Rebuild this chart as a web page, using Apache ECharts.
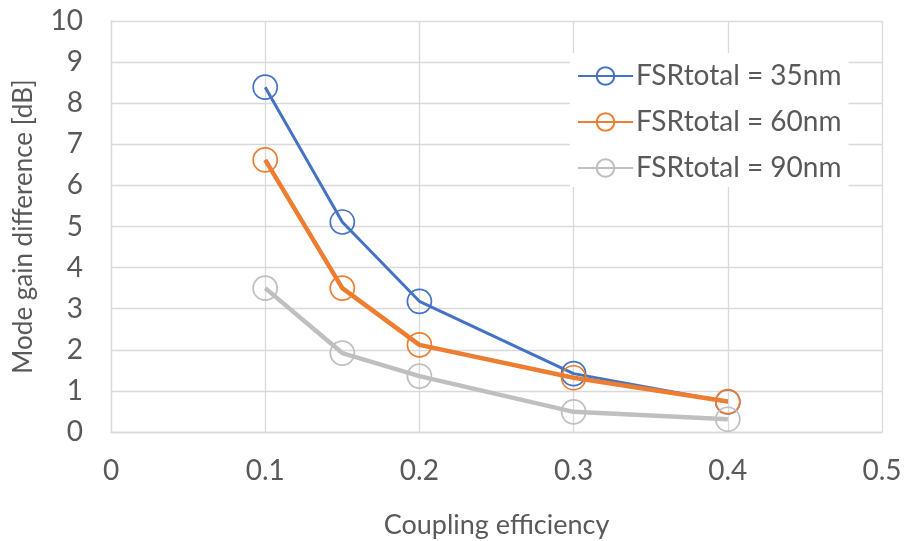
<!DOCTYPE html>
<html>
<head>
<meta charset="utf-8">
<script src="https://cdn.jsdelivr.net/npm/echarts@6/dist/echarts.min.js"></script>
<style>
  html, body { margin: 0; padding: 0; background: #fff; }
  #chart { width: 907px; height: 541px; }
</style>
</head>
<body>
<div id="chart"></div>
<script>
// Coupling efficiency (x) and mode gain difference in dB (y) for three total FSRs
const couplingEff = [0.1, 0.15, 0.2, 0.3, 0.4];
const gain35 = [8.39, 5.11, 3.18, 1.42, 0.73];
const gain60 = [6.62, 3.5, 2.12, 1.32, 0.74];
const gain90 = [3.5, 1.92, 1.36, 0.49, 0.31];
const seriesNames = ['FSRtotal = 35nm', 'FSRtotal = 60nm', 'FSRtotal = 90nm'];
const seriesColors = ['#4472C4', '#ED7D31', '#BFBFBF'];
const lineWidths = [3, 4.5, 4.5];

const font = 'Lato, "Open Sans", sans-serif';
const textColor = '#595959';
const gridColor = '#D9D9D9';

function pairs(ys) {
  return couplingEff.map((x, i) => [x, ys[i]]);
}

const seriesData = [gain35, gain60, gain90];

const chart = echarts.init(document.getElementById('chart'), null, { renderer: 'canvas' });
chart.setOption({
  animation: false,
  backgroundColor: '#fff',
  grid: { left: 111, right: 25, top: 21, bottom: 109, containLabel: false, outerBoundsMode: 'none' },
  xAxis: {
    type: 'value',
    min: 0, max: 0.5, interval: 0.1,
    name: 'Coupling efficiency',
    nameLocation: 'middle',
    nameGap: 80,
    nameTextStyle: { color: textColor, fontFamily: font, fontSize: 27 },
    axisLine: { lineStyle: { color: gridColor, width: 1.3 } },
    axisTick: { show: false },
    axisLabel: { color: textColor, fontFamily: font, fontSize: 28, margin: 25,
      formatter: v => String(Math.round(v * 10) / 10) },
    splitLine: { show: true, lineStyle: { color: gridColor, width: 1.3 } }
  },
  yAxis: {
    type: 'value',
    min: 0, max: 10, interval: 1,
    name: 'Mode gain difference [dB]',
    nameLocation: 'middle',
    nameGap: 74,
    nameTextStyle: { color: textColor, fontFamily: font, fontSize: 26 },
    axisLine: { show: true, lineStyle: { color: gridColor, width: 1.3 } },
    axisTick: { show: false },
    axisLabel: { color: textColor, fontFamily: font, fontSize: 28, margin: 28 },
    splitLine: { show: true, lineStyle: { color: gridColor, width: 1.3 } }
  },
  legend: {
    left: 570, top: 53,
    orient: 'vertical',
    backgroundColor: '#fff',
    padding: [8, 7, 4, 7],
    itemWidth: 55, itemHeight: 22, itemGap: 16,
    textStyle: { color: textColor, fontFamily: font, fontSize: 28, lineHeight: 30, padding: [0, 0, 0, -2] },
    data: seriesNames
  },
  series: seriesData.map((ys, i) => ({
    name: seriesNames[i],
    type: 'line',
    data: pairs(ys),
    symbol: 'circle',
    symbolSize: 24,
    showAllSymbol: true,
    z: 2 + i,
    lineStyle: { color: seriesColors[i], width: lineWidths[i] },
    itemStyle: { color: 'rgba(255,255,255,0)', borderColor: seriesColors[i], borderWidth: 1.7 }
  }))
});
</script>
</body>
</html>
